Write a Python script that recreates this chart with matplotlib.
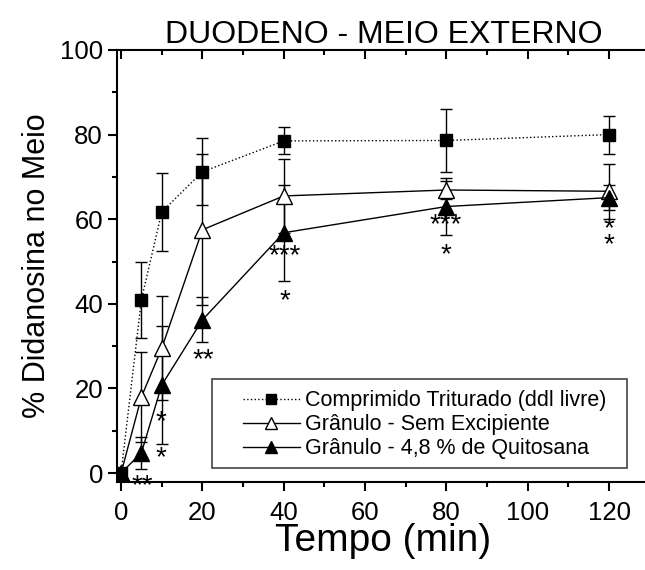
import matplotlib
matplotlib.use("Agg")
import matplotlib.pyplot as plt
from matplotlib.ticker import MultipleLocator
from matplotlib.patches import Rectangle

plt.rcParams['font.family'] = ['Liberation Sans', 'DejaVu Sans']

# tempo de coleta (min)
tempo = [0, 5, 10, 20, 40, 80, 120]

# Comprimido triturado (ddI livre)
comp_media = [0.0, 41.0, 61.7, 71.2, 78.5, 78.6, 80.0]
comp_dp = [0.0, 9.0, 9.2, 7.9, 3.2, 7.4, 4.5]

# Granulo sem excipiente
gran_media = [0.0, 18.0, 29.5, 57.5, 65.5, 66.9, 66.6]
gran_dp = [0.0, 10.7, 12.3, 17.8, 8.7, 2.2, 6.5]

# Granulo com 4,8 % de quitosana
quit_media = [0.0, 4.8, 20.8, 36.2, 56.8, 63.0, 65.1]
quit_dp = [0.0, 3.8, 14.0, 5.3, 11.4, 6.7, 3.0]

# marcas de significancia (x, y, texto)
signif_x = [5.2, 9.8, 9.8, 20.1, 40.3, 40.3, 79.9, 79.9, 119.9]
signif_y = [-1.4, 13.7, 5.2, 28.4, 53.0, 42.3, 60.3, 53.2, 57.5]
signif_txt = ['**', '*', '*', '**', '***', '*', '***', '*', '*\n*']

fig = plt.figure(figsize=(6.45, 5.70), dpi=100)
ax = fig.add_axes([0.1814, 0.1544, 0.826, 0.758])

eb = dict(ecolor='black', elinewidth=1.0, capsize=4, capthick=1.0, color='black')
gran = ax.errorbar(tempo, gran_media, yerr=gran_dp, fmt='-^', mfc='white', mec='black',
                   ms=11, lw=1.0, zorder=3, **eb)
quit = ax.errorbar(tempo, quit_media, yerr=quit_dp, fmt='-^', mfc='black', mec='black',
                   ms=11, lw=1.0, zorder=3, **eb)
comp = ax.errorbar(tempo, comp_media, yerr=comp_dp, fmt=':s', mfc='black', mec='black',
                   ms=9, lw=1.0, zorder=4, **eb)

for x, y, t in zip(signif_x, signif_y, signif_txt):
    ax.annotate(t, (x, y), xytext=(0, -5), textcoords='offset points',
                ha='center', va='center', fontsize=20, linespacing=0.5)

ax.set_xlim(-1, 130)
ax.set_ylim(-2.1, 100)
ax.xaxis.set_major_locator(MultipleLocator(20))
ax.xaxis.set_minor_locator(MultipleLocator(10))
ax.yaxis.set_major_locator(MultipleLocator(20))
ax.yaxis.set_minor_locator(MultipleLocator(10))

for s in ax.spines.values():
    s.set_linewidth(1.5)
ax.tick_params(which='both', direction='out', width=1.5, labelsize=18.5)
ax.tick_params(which='major', length=6.5)
ax.tick_params(which='minor', length=3.5)
ax.tick_params(axis='x', which='major', pad=7)
ax.tick_params(which='both', top=True, right=True)
for t in ax.xaxis.get_major_ticks() + ax.xaxis.get_minor_ticks():
    t.tick2line.set_marker(3)  # para dentro no topo
for t in ax.yaxis.get_major_ticks() + ax.yaxis.get_minor_ticks():
    t.tick2line.set_marker(1)

ax.set_xlabel('Tempo (min)', fontsize=28, labelpad=-1)
ax.set_ylabel('% Didanosina no Meio', fontsize=22, labelpad=6)
ax.set_title('DUODENO - MEIO EXTERNO', fontsize=23, pad=4)

# caixa da legenda desenhada a parte
ax.add_patch(Rectangle((0.178, 0.032), 0.779, 0.206, transform=ax.transAxes,
                       fill=True, facecolor='white', edgecolor='#444444', lw=1.2, zorder=5))

handles = [comp[0], gran[0], quit[0]]
labels = [u'Comprimido Triturado (ddl livre)', u'Grânulo - Sem Excipiente',
          u'Grânulo - 4,8 % de Quitosana']
leg = ax.legend(handles, labels, loc='center left',
                bbox_to_anchor=(0.236, 0.132), borderaxespad=0, borderpad=0,
                fontsize=15.5, frameon=False, markerscale=0.75, handlelength=2.65,
                handletextpad=0.25, labelspacing=0.14)
leg.set_zorder(6)

fig.savefig('out.png', dpi=100)
